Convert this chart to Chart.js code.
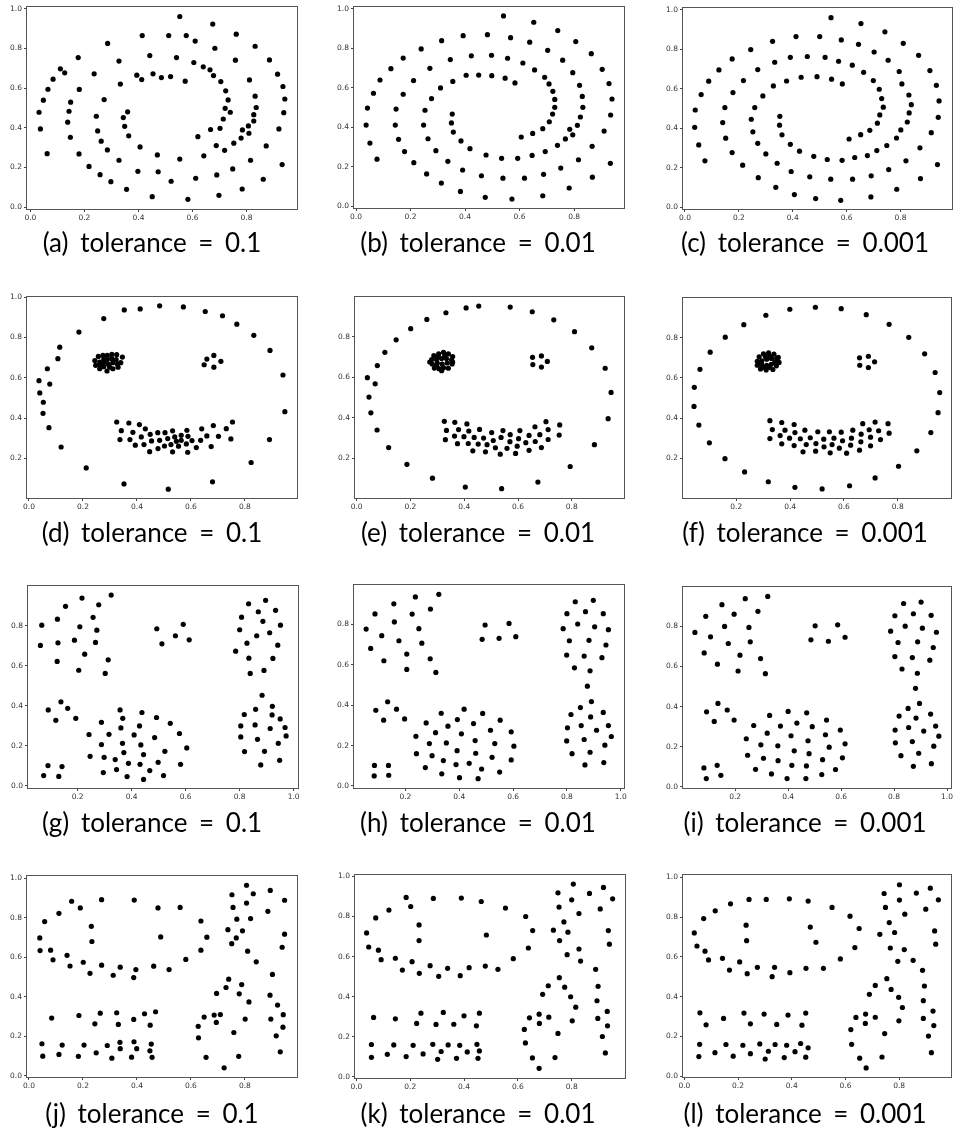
<!DOCTYPE html>
<html>
<head>
<meta charset="utf-8">
<script src="https://cdn.jsdelivr.net/npm/chart.js@4.4.0/dist/chart.umd.min.js"></script>
<style>
  body { margin: 0; background: #fff; width: 954px; height: 1135px; position: relative; overflow: hidden; }
  canvas { position: absolute; }
  .cap { position: absolute; font-family: Lato, sans-serif; font-size: 26px; line-height: 1; color: #000;
         white-space: nowrap; transform: translateX(-50%); word-spacing: 5px; }
</style>
</head>
<body>
<script>
// ---- data (x, y pairs per panel) ----
const pointsA = [[0.553,0.961],[0.675,0.923],[0.414,0.865],[0.512,0.865],[0.577,0.865],[0.762,0.872],[0.610,0.837],[0.286,0.825],[0.683,0.801],[0.832,0.811],
[0.177,0.754],[0.442,0.764],[0.541,0.754],[0.328,0.736],[0.759,0.741],[0.885,0.742],[0.605,0.729],[0.640,0.707],[0.111,0.697],[0.127,0.677],
[0.236,0.672],[0.394,0.665],[0.454,0.672],[0.665,0.692],[0.678,0.663],[0.485,0.653],[0.519,0.658],[0.412,0.643],[0.084,0.645],[0.573,0.635],
[0.705,0.633],[0.811,0.641],[0.915,0.670],[0.333,0.620],[0.935,0.608],[0.065,0.594],[0.181,0.593],[0.723,0.586],[0.832,0.559],[0.048,0.539],
[0.273,0.542],[0.732,0.540],[0.942,0.545],[0.149,0.529],[0.721,0.498],[0.836,0.502],[0.032,0.478],[0.143,0.483],[0.360,0.480],[0.740,0.478],
[0.938,0.476],[0.244,0.458],[0.344,0.451],[0.827,0.466],[0.714,0.444],[0.827,0.434],[0.138,0.428],[0.349,0.407],[0.807,0.409],[0.037,0.394],
[0.667,0.391],[0.702,0.397],[0.785,0.389],[0.920,0.394],[0.249,0.384],[0.809,0.372],[0.148,0.352],[0.364,0.359],[0.620,0.355],[0.780,0.348],
[0.262,0.332],[0.753,0.322],[0.406,0.303],[0.688,0.310],[0.873,0.308],[0.285,0.288],[0.719,0.286],[0.062,0.269],[0.180,0.268],[0.470,0.263],
[0.642,0.258],[0.553,0.242],[0.328,0.236],[0.815,0.236],[0.217,0.205],[0.932,0.214],[0.749,0.192],[0.398,0.180],[0.473,0.178],[0.258,0.163],
[0.690,0.162],[0.612,0.145],[0.862,0.140],[0.298,0.128],[0.521,0.130],[0.356,0.089],[0.784,0.091],[0.451,0.052],[0.698,0.059],[0.583,0.039]];

const pointsB = [[0.541,0.963],[0.652,0.931],[0.740,0.889],[0.393,0.863],[0.482,0.868],[0.567,0.853],[0.314,0.838],[0.637,0.830],[0.806,0.833],[0.239,0.796],
[0.703,0.789],[0.863,0.772],[0.173,0.750],[0.346,0.742],[0.423,0.761],[0.497,0.764],[0.556,0.749],[0.758,0.739],[0.612,0.725],[0.128,0.696],
[0.271,0.698],[0.655,0.690],[0.903,0.693],[0.795,0.676],[0.404,0.663],[0.450,0.664],[0.498,0.661],[0.547,0.648],[0.692,0.653],[0.088,0.639],
[0.211,0.636],[0.355,0.632],[0.583,0.624],[0.708,0.619],[0.820,0.612],[0.928,0.621],[0.310,0.599],[0.064,0.572],[0.173,0.567],[0.722,0.582],
[0.277,0.545],[0.830,0.556],[0.729,0.541],[0.939,0.543],[0.042,0.497],[0.147,0.492],[0.253,0.486],[0.729,0.501],[0.832,0.501],[0.353,0.467],
[0.721,0.467],[0.934,0.462],[0.823,0.452],[0.037,0.411],[0.144,0.411],[0.248,0.411],[0.350,0.422],[0.709,0.428],[0.784,0.390],[0.685,0.393],
[0.812,0.410],[0.910,0.381],[0.357,0.376],[0.795,0.362],[0.648,0.369],[0.606,0.351],[0.768,0.341],[0.156,0.339],[0.264,0.342],[0.385,0.331],
[0.739,0.309],[0.866,0.304],[0.051,0.320],[0.418,0.292],[0.293,0.282],[0.178,0.277],[0.694,0.277],[0.477,0.260],[0.646,0.258],[0.534,0.243],
[0.593,0.243],[0.077,0.239],[0.337,0.228],[0.816,0.236],[0.212,0.221],[0.933,0.218],[0.751,0.194],[0.391,0.184],[0.259,0.164],[0.460,0.155],
[0.688,0.162],[0.539,0.143],[0.618,0.143],[0.867,0.148],[0.313,0.118],[0.782,0.093],[0.383,0.076],[0.685,0.054],[0.474,0.046],[0.572,0.037]];

const pointsC = [[0.542,0.961],[0.653,0.931],[0.742,0.889],[0.412,0.865],[0.500,0.865],[0.580,0.848],[0.325,0.841],[0.644,0.826],[0.810,0.831],[0.244,0.799],
[0.702,0.787],[0.867,0.770],[0.175,0.752],[0.333,0.735],[0.391,0.760],[0.454,0.764],[0.520,0.760],[0.570,0.740],[0.754,0.745],[0.621,0.720],
[0.126,0.696],[0.270,0.698],[0.663,0.684],[0.909,0.693],[0.795,0.688],[0.431,0.659],[0.490,0.662],[0.544,0.649],[0.088,0.639],[0.217,0.642],
[0.377,0.640],[0.699,0.642],[0.584,0.625],[0.805,0.625],[0.933,0.618],[0.328,0.615],[0.721,0.598],[0.178,0.581],[0.060,0.571],[0.289,0.564],
[0.831,0.569],[0.730,0.551],[0.840,0.520],[0.943,0.539],[0.038,0.493],[0.148,0.505],[0.259,0.505],[0.736,0.507],[0.723,0.468],[0.832,0.478],
[0.352,0.461],[0.246,0.446],[0.940,0.456],[0.714,0.426],[0.140,0.429],[0.825,0.432],[0.351,0.416],[0.036,0.405],[0.686,0.390],[0.801,0.392],
[0.252,0.382],[0.914,0.378],[0.360,0.367],[0.652,0.368],[0.609,0.346],[0.785,0.351],[0.151,0.350],[0.270,0.324],[0.391,0.319],[0.051,0.316],
[0.749,0.313],[0.872,0.301],[0.712,0.287],[0.425,0.284],[0.300,0.270],[0.175,0.277],[0.677,0.262],[0.478,0.258],[0.630,0.252],[0.528,0.242],
[0.583,0.238],[0.074,0.235],[0.342,0.223],[0.820,0.235],[0.214,0.213],[0.937,0.216],[0.756,0.191],[0.394,0.181],[0.272,0.150],[0.463,0.154],
[0.691,0.159],[0.541,0.142],[0.622,0.142],[0.874,0.145],[0.337,0.101],[0.786,0.091],[0.406,0.064],[0.690,0.052],[0.485,0.044],[0.578,0.035]];

const pointsD = [[0.484,0.957],[0.572,0.952],[0.412,0.942],[0.353,0.937],[0.653,0.929],[0.717,0.908],[0.277,0.894],[0.770,0.866],[0.185,0.827],[0.833,0.811],
[0.114,0.752],[0.893,0.736],[0.107,0.695],[0.068,0.645],[0.941,0.614],[0.037,0.586],[0.077,0.569],[0.040,0.525],[0.053,0.479],[0.052,0.424],
[0.948,0.432],[0.074,0.353],[0.891,0.294],[0.119,0.257],[0.212,0.153],[0.823,0.180],[0.352,0.074],[0.680,0.084],[0.516,0.048],
[0.277,0.691],[0.290,0.711],[0.307,0.716],[0.325,0.715],[0.346,0.703],[0.340,0.675],[0.330,0.653],[0.311,0.645],[0.289,0.634],[0.262,0.645],
[0.247,0.662],[0.244,0.686],[0.257,0.706],[0.274,0.711],[0.277,0.675],[0.294,0.668],[0.311,0.675],[0.323,0.691],[0.306,0.695],[0.289,0.690],
[0.262,0.678],[0.299,0.653],[0.277,0.655],[0.328,0.668],[0.262,0.665],
[0.649,0.665],[0.659,0.693],[0.685,0.711],[0.711,0.682],[0.685,0.653],
[0.325,0.381],[0.370,0.376],[0.409,0.368],[0.683,0.363],[0.754,0.381],[0.342,0.338],[0.385,0.330],[0.431,0.347],[0.449,0.320],[0.477,0.328],
[0.504,0.328],[0.532,0.337],[0.564,0.315],[0.585,0.340],[0.640,0.347],[0.659,0.312],[0.731,0.348],[0.702,0.310],[0.337,0.294],[0.374,0.294],
[0.416,0.307],[0.454,0.287],[0.484,0.290],[0.514,0.299],[0.540,0.307],[0.564,0.290],[0.589,0.310],[0.604,0.289],[0.636,0.290],[0.546,0.285],
[0.748,0.297],[0.394,0.266],[0.426,0.269],[0.502,0.262],[0.526,0.269],[0.554,0.261],[0.583,0.272],[0.620,0.254],[0.675,0.259],[0.478,0.249],
[0.447,0.234],[0.532,0.233],[0.588,0.231]];

const pointsE = [[0.454,0.953],[0.571,0.948],[0.407,0.944],[0.332,0.920],[0.653,0.925],[0.261,0.887],[0.733,0.885],[0.201,0.841],[0.810,0.826],[0.147,0.786],
[0.874,0.746],[0.105,0.724],[0.077,0.658],[0.924,0.645],[0.040,0.598],[0.069,0.568],[0.046,0.502],[0.946,0.525],[0.053,0.424],[0.935,0.395],
[0.076,0.339],[0.884,0.266],[0.119,0.252],[0.187,0.169],[0.794,0.158],[0.282,0.100],[0.674,0.081],[0.404,0.056],[0.539,0.048],
[0.287,0.708],[0.305,0.716],[0.323,0.724],[0.341,0.716],[0.357,0.703],[0.279,0.688],[0.297,0.688],[0.316,0.693],[0.334,0.693],[0.353,0.686],
[0.281,0.666],[0.300,0.671],[0.318,0.666],[0.337,0.671],[0.355,0.666],[0.289,0.646],[0.306,0.643],[0.323,0.648],[0.341,0.645],[0.316,0.633],
[0.272,0.676],[0.303,0.701],[0.328,0.708],[0.357,0.676],[0.297,0.659],
[0.654,0.699],[0.687,0.706],[0.709,0.679],[0.655,0.663],[0.687,0.651],
[0.326,0.382],[0.365,0.377],[0.410,0.369],[0.704,0.380],[0.755,0.364],[0.334,0.337],[0.379,0.341],[0.417,0.334],[0.457,0.342],[0.502,0.326],
[0.544,0.336],[0.571,0.316],[0.607,0.336],[0.663,0.355],[0.712,0.341],[0.681,0.316],[0.753,0.314],[0.330,0.291],[0.364,0.309],[0.399,0.306],
[0.437,0.302],[0.472,0.299],[0.508,0.287],[0.537,0.302],[0.570,0.281],[0.602,0.296],[0.641,0.312],[0.664,0.282],[0.712,0.292],[0.375,0.271],
[0.415,0.272],[0.452,0.269],[0.485,0.266],[0.516,0.251],[0.559,0.248],[0.597,0.259],[0.629,0.276],[0.687,0.252],[0.432,0.236],[0.479,0.231],
[0.534,0.219],[0.591,0.223],[0.641,0.238]];

const pointsF = [[0.494,0.952],[0.399,0.942],[0.590,0.945],[0.310,0.912],[0.683,0.915],[0.228,0.865],[0.768,0.867],[0.159,0.803],[0.841,0.802],[0.103,0.728],
[0.900,0.720],[0.065,0.643],[0.939,0.627],[0.044,0.553],[0.956,0.527],[0.043,0.458],[0.950,0.427],[0.061,0.365],[0.923,0.328],[0.100,0.277],
[0.871,0.237],[0.158,0.198],[0.803,0.160],[0.231,0.132],[0.716,0.102],[0.319,0.083],[0.621,0.063],[0.418,0.055],[0.519,0.047],
[0.285,0.705],[0.301,0.720],[0.320,0.725],[0.340,0.718],[0.356,0.702],[0.278,0.683],[0.295,0.685],[0.313,0.693],[0.331,0.697],[0.359,0.677],
[0.278,0.663],[0.294,0.667],[0.313,0.663],[0.330,0.668],[0.349,0.660],[0.290,0.645],[0.311,0.640],[0.336,0.642],[0.304,0.653],[0.323,0.653],
[0.285,0.677],[0.325,0.708],[0.308,0.707],[0.343,0.677],[0.350,0.697],
[0.658,0.700],[0.691,0.708],[0.714,0.680],[0.659,0.663],[0.691,0.652],
[0.325,0.387],[0.369,0.378],[0.415,0.368],[0.670,0.372],[0.716,0.380],[0.764,0.372],[0.334,0.343],[0.381,0.340],[0.418,0.328],[0.455,0.340],
[0.503,0.332],[0.546,0.332],[0.590,0.330],[0.633,0.340],[0.664,0.320],[0.694,0.342],[0.729,0.337],[0.768,0.325],[0.325,0.298],[0.363,0.313],
[0.398,0.300],[0.438,0.297],[0.475,0.302],[0.525,0.295],[0.563,0.300],[0.595,0.287],[0.628,0.300],[0.663,0.282],[0.699,0.305],[0.736,0.293],
[0.369,0.272],[0.415,0.263],[0.460,0.268],[0.496,0.273],[0.526,0.257],[0.556,0.268],[0.583,0.250],[0.625,0.265],[0.658,0.240],[0.699,0.262],
[0.448,0.232],[0.495,0.235],[0.549,0.227],[0.610,0.225]];

const pointsG = [[0.324,0.953],[0.216,0.938],[0.278,0.905],[0.155,0.897],[0.067,0.803],[0.125,0.833],[0.257,0.842],[0.208,0.795],[0.271,0.778],[0.062,0.702],
[0.127,0.715],[0.188,0.728],[0.266,0.717],[0.226,0.658],[0.124,0.622],[0.313,0.630],[0.204,0.578],[0.302,0.562],
[0.493,0.785],[0.512,0.710],[0.562,0.750],[0.591,0.807],[0.613,0.730],
[0.833,0.910],[0.896,0.927],[0.869,0.870],[0.933,0.877],[0.807,0.843],[0.886,0.822],[0.800,0.780],[0.911,0.765],[0.951,0.803],[0.827,0.713],
[0.863,0.750],[0.941,0.703],[0.785,0.673],[0.834,0.638],[0.923,0.637],[0.839,0.562],[0.890,0.577],
[0.138,0.420],[0.091,0.380],[0.163,0.388],[0.119,0.328],[0.193,0.338],[0.074,0.052],[0.090,0.102],[0.130,0.048],[0.142,0.097],
[0.357,0.380],[0.367,0.338],[0.438,0.367],[0.492,0.342],[0.288,0.318],[0.360,0.290],[0.429,0.300],[0.543,0.313],[0.242,0.257],[0.316,0.258],
[0.409,0.255],[0.485,0.242],[0.577,0.262],[0.288,0.207],[0.366,0.213],[0.434,0.205],[0.371,0.167],[0.444,0.157],[0.523,0.173],[0.604,0.190],
[0.246,0.148],[0.298,0.143],[0.339,0.132],[0.388,0.113],[0.431,0.108],[0.498,0.118],[0.581,0.108],[0.295,0.067],[0.344,0.082],[0.383,0.047],
[0.444,0.033],[0.467,0.077],[0.518,0.052],
[0.883,0.453],[0.859,0.383],[0.921,0.398],[0.817,0.357],[0.920,0.355],[0.804,0.300],[0.857,0.305],[0.913,0.287],[0.950,0.335],[0.968,0.292],
[0.804,0.245],[0.866,0.233],[0.972,0.250],[0.943,0.213],[0.818,0.172],[0.892,0.173],[0.878,0.105],[0.948,0.128]];

const pointsH = [[0.324,0.949],[0.237,0.936],[0.157,0.902],[0.293,0.876],[0.087,0.852],[0.225,0.851],[0.159,0.812],[0.054,0.777],[0.250,0.779],[0.112,0.744],
[0.176,0.719],[0.261,0.707],[0.071,0.681],[0.205,0.653],[0.292,0.630],[0.120,0.620],[0.205,0.577],[0.313,0.562],
[0.496,0.797],[0.585,0.805],[0.485,0.726],[0.548,0.731],[0.610,0.739],
[0.831,0.912],[0.898,0.919],[0.800,0.853],[0.869,0.863],[0.935,0.853],[0.840,0.802],[0.786,0.779],[0.903,0.788],[0.954,0.774],[0.809,0.719],
[0.882,0.721],[0.945,0.698],[0.799,0.648],[0.864,0.643],[0.930,0.635],[0.828,0.585],[0.886,0.570],[0.876,0.494],
[0.134,0.417],[0.090,0.375],[0.167,0.380],[0.119,0.326],[0.197,0.332],[0.085,0.102],[0.137,0.102],[0.084,0.050],[0.138,0.053],
[0.333,0.360],[0.418,0.380],[0.487,0.359],[0.552,0.326],[0.277,0.312],[0.358,0.296],[0.393,0.329],[0.453,0.309],[0.516,0.276],[0.593,0.268],
[0.312,0.264],[0.408,0.258],[0.239,0.246],[0.459,0.225],[0.532,0.210],[0.603,0.197],[0.289,0.210],[0.352,0.213],[0.392,0.175],[0.241,0.160],
[0.299,0.150],[0.461,0.162],[0.522,0.142],[0.593,0.129],[0.341,0.126],[0.388,0.106],[0.437,0.112],[0.274,0.091],[0.483,0.084],[0.550,0.069],
[0.335,0.060],[0.401,0.041],[0.470,0.036],
[0.891,0.418],[0.850,0.388],[0.815,0.354],[0.888,0.342],[0.935,0.364],[0.802,0.288],[0.853,0.299],[0.910,0.276],[0.954,0.299],[0.965,0.245],
[0.799,0.223],[0.864,0.230],[0.941,0.202],[0.819,0.160],[0.886,0.167],[0.867,0.104],[0.937,0.116]];

const pointsI = [[0.323,0.948],[0.238,0.937],[0.150,0.907],[0.286,0.874],[0.196,0.860],[0.089,0.849],[0.160,0.799],[0.252,0.794],[0.048,0.769],[0.107,0.747],
[0.257,0.722],[0.174,0.714],[0.083,0.667],[0.218,0.656],[0.296,0.639],[0.133,0.611],[0.211,0.577],[0.314,0.564],
[0.502,0.802],[0.587,0.807],[0.486,0.732],[0.552,0.725],[0.615,0.745],
[0.836,0.913],[0.902,0.920],[0.803,0.852],[0.873,0.862],[0.940,0.854],[0.842,0.800],[0.787,0.775],[0.907,0.790],[0.960,0.770],[0.815,0.719],
[0.889,0.722],[0.948,0.694],[0.803,0.649],[0.869,0.644],[0.935,0.631],[0.830,0.587],[0.888,0.566],[0.881,0.491],
[0.135,0.416],[0.092,0.374],[0.170,0.383],[0.121,0.326],[0.196,0.333],[0.082,0.095],[0.132,0.108],[0.091,0.042],[0.146,0.058],
[0.330,0.356],[0.400,0.376],[0.470,0.369],[0.545,0.333],[0.270,0.306],[0.371,0.303],[0.433,0.318],[0.491,0.300],[0.597,0.283],[0.321,0.268],
[0.411,0.255],[0.541,0.260],[0.242,0.240],[0.475,0.230],[0.615,0.215],[0.297,0.210],[0.361,0.205],[0.555,0.198],[0.423,0.180],[0.247,0.158],
[0.307,0.143],[0.479,0.166],[0.530,0.136],[0.605,0.145],[0.362,0.131],[0.414,0.108],[0.469,0.105],[0.277,0.088],[0.579,0.087],[0.337,0.065],
[0.527,0.062],[0.396,0.042],[0.467,0.042],
[0.896,0.416],[0.853,0.391],[0.819,0.353],[0.883,0.343],[0.938,0.363],[0.804,0.283],[0.855,0.296],[0.912,0.278],[0.957,0.303],[0.969,0.253],
[0.805,0.220],[0.869,0.226],[0.950,0.203],[0.826,0.156],[0.893,0.168],[0.873,0.103],[0.941,0.116]];

const pointsJ = [[0.806,0.965],[0.752,0.917],[0.831,0.922],[0.894,0.939],[0.947,0.889],[0.158,0.884],[0.269,0.892],[0.390,0.890],[0.478,0.850],[0.560,0.853],
[0.756,0.853],[0.806,0.875],[0.190,0.850],[0.111,0.823],[0.885,0.833],[0.058,0.781],[0.637,0.784],[0.770,0.793],[0.821,0.796],[0.231,0.757],
[0.737,0.740],[0.791,0.734],[0.233,0.680],[0.488,0.703],[0.659,0.702],[0.040,0.698],[0.768,0.698],[0.751,0.669],[0.947,0.717],[0.938,0.651],
[0.041,0.634],[0.080,0.636],[0.810,0.631],[0.089,0.587],[0.141,0.610],[0.581,0.589],[0.637,0.636],[0.842,0.577],[0.152,0.556],[0.201,0.575],
[0.269,0.560],[0.226,0.519],[0.338,0.550],[0.312,0.509],[0.396,0.538],[0.388,0.497],[0.462,0.555],[0.519,0.538],[0.740,0.489],[0.902,0.513],
[0.730,0.447],[0.788,0.462],[0.695,0.417],[0.779,0.415],[0.815,0.374],[0.893,0.408],[0.921,0.358],[0.084,0.292],[0.185,0.305],[0.264,0.317],
[0.325,0.319],[0.428,0.314],[0.469,0.324],[0.244,0.263],[0.331,0.260],[0.388,0.285],[0.449,0.256],[0.649,0.297],[0.709,0.310],[0.686,0.307],
[0.694,0.270],[0.627,0.250],[0.801,0.287],[0.896,0.287],[0.942,0.309],[0.941,0.246],[0.759,0.219],[0.916,0.202],[0.628,0.192],[0.048,0.162],
[0.123,0.155],[0.204,0.155],[0.290,0.153],[0.337,0.169],[0.389,0.172],[0.453,0.160],[0.338,0.137],[0.399,0.137],[0.448,0.126],[0.051,0.099],
[0.111,0.108],[0.183,0.098],[0.249,0.116],[0.307,0.089],[0.380,0.094],[0.456,0.093],[0.656,0.093],[0.777,0.098],[0.931,0.121],[0.723,0.040]];

const pointsK = [[0.806,0.962],[0.749,0.918],[0.866,0.915],[0.918,0.945],[0.952,0.888],[0.185,0.895],[0.286,0.890],[0.390,0.892],[0.464,0.875],[0.554,0.842],
[0.800,0.883],[0.202,0.850],[0.753,0.847],[0.121,0.832],[0.906,0.838],[0.827,0.815],[0.072,0.793],[0.629,0.800],[0.771,0.773],[0.233,0.758],
[0.732,0.732],[0.655,0.730],[0.786,0.722],[0.936,0.730],[0.038,0.718],[0.483,0.708],[0.233,0.680],[0.755,0.680],[0.940,0.662],[0.046,0.648],
[0.639,0.643],[0.082,0.632],[0.827,0.638],[0.092,0.585],[0.145,0.592],[0.583,0.590],[0.783,0.610],[0.833,0.578],[0.171,0.533],[0.207,0.575],
[0.234,0.517],[0.274,0.555],[0.306,0.502],[0.339,0.542],[0.386,0.505],[0.419,0.545],[0.479,0.553],[0.526,0.537],[0.889,0.537],[0.754,0.495],
[0.713,0.455],[0.774,0.448],[0.692,0.412],[0.796,0.400],[0.898,0.452],[0.894,0.380],[0.815,0.348],[0.932,0.327],[0.064,0.297],[0.145,0.290],
[0.240,0.318],[0.323,0.322],[0.400,0.305],[0.457,0.318],[0.224,0.267],[0.296,0.262],[0.362,0.263],[0.446,0.255],[0.643,0.295],[0.679,0.313],
[0.715,0.298],[0.680,0.267],[0.624,0.237],[0.802,0.280],[0.897,0.292],[0.933,0.255],[0.749,0.217],[0.914,0.202],[0.628,0.170],[0.056,0.162],
[0.139,0.160],[0.211,0.158],[0.284,0.163],[0.341,0.160],[0.384,0.158],[0.448,0.163],[0.315,0.127],[0.412,0.125],[0.457,0.130],[0.056,0.098],
[0.115,0.113],[0.185,0.102],[0.248,0.115],[0.302,0.088],[0.372,0.093],[0.452,0.093],[0.654,0.095],[0.738,0.097],[0.925,0.120],[0.679,0.043]];

const pointsL = [[0.801,0.963],[0.744,0.919],[0.864,0.921],[0.916,0.946],[0.946,0.887],[0.172,0.867],[0.241,0.889],[0.305,0.889],[0.391,0.892],[0.461,0.881],
[0.550,0.849],[0.801,0.886],[0.749,0.849],[0.115,0.832],[0.899,0.840],[0.821,0.815],[0.617,0.805],[0.072,0.793],[0.763,0.773],[0.230,0.760],
[0.469,0.750],[0.651,0.743],[0.728,0.714],[0.783,0.723],[0.932,0.731],[0.037,0.721],[0.232,0.682],[0.490,0.674],[0.936,0.664],[0.047,0.655],
[0.635,0.647],[0.767,0.645],[0.819,0.637],[0.077,0.629],[0.090,0.585],[0.142,0.593],[0.581,0.590],[0.795,0.578],[0.852,0.583],[0.168,0.534],
[0.206,0.575],[0.234,0.516],[0.272,0.548],[0.327,0.501],[0.336,0.548],[0.393,0.521],[0.453,0.543],[0.518,0.543],[0.887,0.533],[0.754,0.491],
[0.711,0.457],[0.770,0.437],[0.689,0.412],[0.798,0.397],[0.894,0.454],[0.890,0.380],[0.812,0.346],[0.926,0.328],[0.058,0.319],[0.146,0.291],
[0.222,0.318],[0.297,0.313],[0.386,0.308],[0.452,0.318],[0.081,0.259],[0.246,0.264],[0.344,0.261],[0.438,0.257],[0.639,0.296],[0.675,0.313],
[0.711,0.297],[0.674,0.266],[0.620,0.235],[0.799,0.279],[0.890,0.291],[0.929,0.255],[0.746,0.215],[0.909,0.202],[0.623,0.161],[0.057,0.161],
[0.155,0.160],[0.218,0.156],[0.281,0.163],[0.338,0.160],[0.381,0.156],[0.433,0.165],[0.313,0.126],[0.412,0.124],[0.461,0.143],[0.054,0.099],
[0.114,0.119],[0.182,0.101],[0.246,0.114],[0.301,0.087],[0.372,0.094],[0.452,0.096],[0.653,0.091],[0.736,0.097],[0.920,0.119],[0.677,0.042]];

// axis limits per panel: [xmin, xmax, ymin, ymax]
const limits = {
  a: [-0.0126, 0.987, -0.010, 1.009],
  b: [-0.0074, 0.983, -0.008, 1.008],
  c: [-0.0074, 0.991, -0.009, 1.010],
  d: [-0.0074, 0.993, 0.004, 1.001],
  e: [-0.006, 0.994, 0.002, 0.998],
  f: [0.002, 0.998, 0.002, 0.998],
  g: [0.016, 1.016, -0.010, 0.9985],
  h: [0.009, 1.012, -0.010, 0.995],
  i: [0.003, 1.015, -0.005, 0.995],
  j: [-0.0074, 0.993, -0.0066, 1.012],
  k: [-0.005, 0.998, -0.005, 1.007],
  l: [-0.005, 0.993, -0.0035, 1.012]
};
const tickValues = [0, 0.2, 0.4, 0.6, 0.8, 1.0];
const tolerances = ['0.1', '0.01', '0.001'];

// plot boxes in page pixels: [left, top, right, bottom]
const boxes = {
  a: [27, 7, 297, 209],   b: [354, 7, 624, 208],  c: [683, 8, 952, 209],
  d: [27, 297, 297, 498], e: [355, 297, 624, 498], f: [683, 298, 951, 498],
  g: [28, 586, 298, 788], h: [354, 585, 624, 788], i: [683, 587, 951, 788],
  j: [27, 876, 297, 1077], k: [355, 875, 625, 1078], l: [683, 875, 951, 1077]
};
const capCenters = [152, 478, 805];
const capTops = [229, 519, 809, 1100];

const panels = [
  ['a', pointsA], ['b', pointsB], ['c', pointsC],
  ['d', pointsD], ['e', pointsE], ['f', pointsF],
  ['g', pointsG], ['h', pointsH], ['i', pointsI],
  ['j', pointsJ], ['k', pointsK], ['l', pointsL]
];

const boxPlugin = {
  id: 'frame',
  beforeDatasetsDraw(chart) {
    const { ctx, chartArea: a } = chart;
    ctx.save();
    ctx.strokeStyle = '#555';
    ctx.lineWidth = 1;
    ctx.strokeRect(Math.round(a.left) - 0.5, Math.round(a.top) - 0.5,
                   Math.round(a.right - a.left) + 1, Math.round(a.bottom - a.top) + 1);
    ctx.restore();
  }
};

const YW = 24, XH = 14;  // axis band sizes
const PL = 6, PT = 8, PR = 12, PB = 8;

function axisOpts(min, max, vertical) {
  return {
    type: 'linear',
    min: min,
    max: max,
    afterBuildTicks: axis => {
      axis.ticks = tickValues.filter(v => v >= min - 1e-9 && v <= max + 1e-9).map(v => ({ value: v }));
    },
    afterFit: axis => {
      if (vertical) axis.width = YW; else axis.height = XH;
    },
    grid: { display: true, drawOnChartArea: false, drawTicks: true, tickLength: 3, color: '#444', lineWidth: 1 },
    border: { display: false },
    ticks: {
      autoSkip: false,
      maxRotation: 0,
      padding: 2,
      color: '#333',
      font: { family: 'DejaVu Sans', size: 7.5 },
      callback: v => Number(v).toFixed(1)
    }
  };
}

panels.forEach(([id, pts], idx) => {
  const [L, T, R, B] = boxes[id];
  const lim = limits[id];
  const canvas = document.createElement('canvas');
  const w = (R - L) + YW + PL + PR;
  const h = (B - T) + XH + PT + PB;
  canvas.width = w;
  canvas.height = h;
  canvas.style.left = (L - YW - PL) + 'px';
  canvas.style.top = (T - PT) + 'px';
  canvas.style.width = w + 'px';
  canvas.style.height = h + 'px';
  document.body.appendChild(canvas);

  new Chart(canvas.getContext('2d'), {
    type: 'scatter',
    data: {
      datasets: [{
        data: pts.map(p => ({ x: p[0], y: p[1] })),
        backgroundColor: '#000',
        borderWidth: 0,
        pointRadius: 2.6,
        pointHoverRadius: 2.6
      }]
    },
    options: {
      responsive: false,
      animation: false,
      events: [],
      layout: { padding: { left: PL, top: PT, right: PR, bottom: PB } },
      plugins: { legend: { display: false }, tooltip: { enabled: false } },
      scales: {
        x: axisOpts(lim[0], lim[1], false),
        y: axisOpts(lim[2], lim[3], true)
      }
    },
    plugins: [boxPlugin]
  });

  const cap = document.createElement('div');
  cap.className = 'cap';
  cap.textContent = '(' + id + ') tolerance = ' + tolerances[idx % 3];
  cap.style.left = capCenters[idx % 3] + 'px';
  cap.style.top = capTops[Math.floor(idx / 3)] + 'px';
  document.body.appendChild(cap);
});
</script>
</body>
</html>
